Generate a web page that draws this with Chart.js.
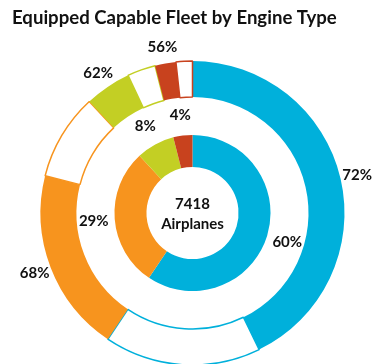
<!DOCTYPE html>
<html>
<head>
<meta charset="utf-8">
<script src="https://cdn.jsdelivr.net/npm/chart.js@4.4.0/dist/chart.umd.min.js"></script>
<style>
  html, body { margin: 0; padding: 0; background: #fff; }
  #wrap { width: 373px; height: 364px; }
</style>
</head>
<body>
<div id="wrap"><canvas id="grafico" width="373" height="364"></canvas></div>
<script>
// engine types, share of the fleet (inner ring) and equipped share of each (outer ring)
var engineTypes = ['Engine A', 'Engine B', 'Engine C', 'Engine D'];
var fleetShare = [60, 29, 8, 4];
var equippedPct = [72, 68, 62, 56];
var totalAirplanes = 7418;
var colores = ['#00B0DB', '#F7941E', '#C3CF24', '#C8421E'];

// outer ring: each type split into equipped (filled) and not equipped (outlined white)
var outerData = [];
var outerBg = [];
var outerBorder = [];
var outerBorderW = [];
for (var i = 0; i < fleetShare.length; i++) {
    outerData.push(fleetShare[i] * equippedPct[i] / 100);
    outerData.push(fleetShare[i] * (100 - equippedPct[i]) / 100);
    outerBg.push(colores[i], '#ffffff');
    outerBorder.push(colores[i], colores[i]);
    outerBorderW.push(0, 1.5);
}

var fontLabel = 'bold 15px Lato';

// draws the percentage labels and the total in the middle
var labelsPlugin = {
    id: 'labelsPlugin',
    afterDraw: function(chart) {
        var ctx = chart.ctx;
        ctx.save();
        ctx.fillStyle = '#111111';
        ctx.font = fontLabel;
        ctx.textAlign = 'center';
        ctx.textBaseline = 'middle';
        var outer = chart.getDatasetMeta(0).data;
        var inner = chart.getDatasetMeta(2).data;
        for (var i = 0; i < fleetShare.length; i++) {
            var a = outer[i * 2];
            var mid = (a.startAngle + a.endAngle) / 2;
            var r = a.outerRadius + 17;
            ctx.fillText(equippedPct[i] + '%', a.x + r * Math.cos(mid), a.y + r * Math.sin(mid));
            var b = inner[i];
            var mid2 = (b.startAngle + b.endAngle) / 2;
            var r2 = b.outerRadius + 21;
            ctx.fillText(fleetShare[i] + '%', b.x + r2 * Math.cos(mid2), b.y + r2 * Math.sin(mid2));
        }
        var c = inner[0];
        ctx.fillText(String(totalAirplanes), c.x, c.y - 9);
        ctx.fillText('Airplanes', c.x, c.y + 11);
        ctx.restore();
    }
};

var graph = new Chart(document.getElementById('grafico'), {
    type: 'doughnut',
    data: {
        labels: engineTypes,
        datasets: [{
            data: outerData,
            backgroundColor: outerBg,
            borderColor: outerBorder,
            borderWidth: outerBorderW,
            weight: 36
        }, {
            // empty ring between the two, holds the inner labels
            data: [1],
            backgroundColor: 'rgba(0,0,0,0)',
            borderWidth: 0,
            weight: 38
        }, {
            data: fleetShare,
            backgroundColor: colores,
            borderWidth: 0,
            weight: 32
        }]
    },
    options: {
        responsive: false,
        animation: false,
        events: [],
        radius: 152,
        cutout: '30.3%',
        layout: { padding: { left: 12, right: 0, top: 0, bottom: 0 } },
        plugins: {
            legend: { display: false },
            tooltip: { enabled: false },
            title: {
                display: true,
                text: 'Equipped Capable Fleet by Engine Type',
                align: 'start',
                color: '#111111',
                font: { family: 'Lato', size: 18.6, weight: 'bold', lineHeight: 1.2 },
                padding: { top: 7, bottom: 32.7 }
            }
        }
    },
    plugins: [labelsPlugin]
});
</script>
</body>
</html>
